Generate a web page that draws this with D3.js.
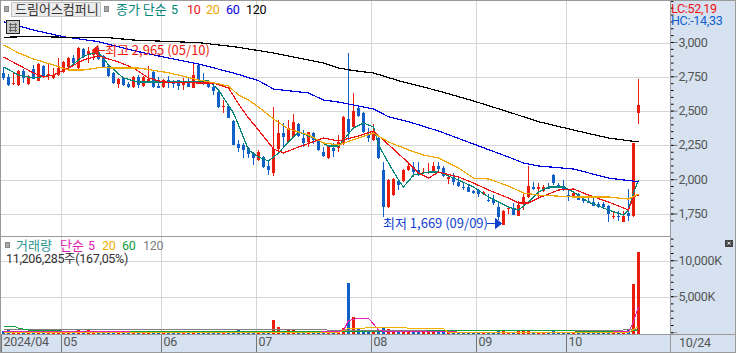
<!DOCTYPE html>
<html>
<head>
<meta charset="utf-8">
<script src="https://cdn.jsdelivr.net/npm/d3@7"></script>
<style>
  body { margin: 0; background: #fff; }
  svg { display: block; }
  text { font-family: "Noto Sans CJK KR", "Noto Sans", sans-serif; font-size: 13px; }
  text.num { font-family: Roboto, "Noto Sans CJK KR", sans-serif; font-size: 12.5px; letter-spacing: -0.3px; }
</style>
</head>
<body>
<div id="chart"></div>
<script>
// gia tri doc tu hinh, moi mang 128 phien
var opens = [2778,2749,2698,2690,2792,2698,2807,2720,2829,2756,2741,2763,2785,2822,2887,2814,2953,2909,2909,2931,
  2902,2829,2778,2698,2741,2698,2676,2749,2683,2720,2785,2683,2676,2727,2712,2727,2690,2705,2669,2836,
  2712,2705,2676,2639,2530,2537,2428,2260,2253,2231,2187,2144,2165,2100,2049,2224,2340,2275,2311,2406,
  2304,2275,2340,2282,2202,2158,2231,2231,2260,2442,2384,2523,2486,2326,2289,2304,2071,1801,1888,1991,
  1991,2071,2093,2071,2049,2049,2056,2100,2085,2005,2020,1983,1947,1947,1918,1925,1896,1852,1852,1801,
  1669,1786,1794,1735,1830,1874,1947,1932,1918,1939,2034,1961,1954,1888,1874,1896,1859,1845,1837,1823,
  1823,1808,1728,1735,1692,1757,1735,2486];
var highs = [2814,2771,2778,2800,2807,2763,2836,2851,2836,2843,2814,2887,2865,2894,2909,2967,2960,2965,2945,2960,
  2909,2836,2785,2741,2749,2712,2756,2763,2756,2829,2792,2749,2734,2756,2727,2727,2741,2741,2858,2851,
  2778,2727,2705,2647,2581,2545,2435,2289,2268,2238,2202,2217,2173,2144,2530,2435,2413,2435,2479,2413,
  2362,2348,2348,2289,2238,2253,2268,2326,2464,2924,2632,2530,2494,2377,2406,2311,2129,2005,2012,1998,
  2078,2122,2129,2129,2085,2122,2129,2129,2100,2027,2049,2012,1983,1961,1925,1932,1918,1896,1888,1837,
  1779,1801,1830,1845,1896,2100,1983,1976,1961,1976,2042,1976,1998,1925,1910,1903,1874,1867,1867,1837,
  1837,1816,1765,1772,1772,1932,2268,2734];
var lows = [2727,2683,2690,2683,2705,2690,2734,2720,2741,2727,2734,2756,2778,2814,2829,2807,2887,2851,2873,2873,
  2814,2749,2698,2669,2683,2669,2669,2669,2676,2712,2669,2669,2669,2669,2669,2654,2654,2676,2669,2705,
  2690,2669,2617,2523,2486,2450,2253,2202,2158,2158,2107,2136,2085,2034,2027,2195,2238,2268,2304,2311,
  2238,2238,2260,2209,2165,2151,2165,2202,2253,2289,2377,2457,2340,2275,2282,2151,1728,1794,1881,1925,
  1983,2063,2020,2027,2042,2042,2049,2049,2020,1969,1961,1947,1925,1910,1896,1874,1888,1837,1816,1706,
  1669,1750,1743,1735,1779,1867,1925,1874,1910,1932,1961,1939,1918,1845,1867,1852,1830,1830,1808,1794,
  1794,1692,1714,1699,1692,1699,1728,2406];
var closes = [2741,2690,2705,2792,2741,2756,2734,2843,2749,2771,2763,2814,2858,2887,2851,2960,2894,2938,2931,2880,
  2822,2756,2705,2734,2690,2676,2749,2690,2749,2734,2676,2669,2727,2705,2698,2683,2712,2676,2763,2727,
  2705,2676,2647,2530,2537,2450,2253,2231,2217,2187,2158,2202,2093,2071,2224,2340,2311,2377,2421,2319,
  2268,2348,2289,2217,2173,2246,2209,2275,2457,2348,2501,2464,2348,2304,2355,2158,1801,1998,2005,1961,
  2071,2100,2056,2034,2056,2056,2100,2078,2027,2020,1983,1954,1939,1910,1903,1896,1910,1845,1830,1728,
  1772,1794,1743,1816,1874,1954,1932,1947,1947,1932,1976,1947,1925,1881,1903,1852,1845,1830,1808,1801,
  1801,1750,1735,1728,1735,1735,2268,2545];
var volumes = [280,310,190,260,240,210,230,300,220,170,150,240,260,280,210,340,250,330,210,240,
  220,200,190,170,180,140,190,160,170,180,210,130,170,140,120,160,150,130,210,270,
  150,130,170,230,160,190,260,310,170,150,130,160,180,140,1760,820,300,340,380,260,
  210,240,190,200,230,270,160,290,720,6940,2220,620,380,290,310,410,640,530,310,190,
  220,180,170,150,120,130,170,140,170,130,120,110,100,120,90,110,90,100,110,220,
  260,130,110,180,210,320,130,110,120,90,190,100,120,110,120,130,90,80,100,90,
  90,170,100,110,140,320,6760,11206];

// cac duong trung binh gia: phien + gia tri
var ma5Bars = [0,3,6,10,13,16,19,21,24,27,33,41,43,46,47,49,51,53,55,57,59,62,65,67,70,72,74,75,77,79,80,82,85,87,91,94,97,101,103,105,107,109,112,114,117,121,124,125,126,127];
var ma5 = [2822,2763,2741,2763,2814,2902,2931,2836,2741,2712,2712,2720,2654,2486,2399,2217,2165,2136,2195,2275,2348,2304,2246,2246,2377,2413,2384,2253,2122,1998,1947,2034,2056,2056,1998,1947,1874,1801,1779,1837,1910,1947,1947,1910,1837,1779,1743,1779,1903,1998];
var ma10Bars = [0,3,6,8,10,13,16,19,23,26,29,32,39,42,45,47,49,51,54,56,59,64,67,71,74,76,81,83,85,87,91,94,97,101,103,105,107,111,114,117,121,125,126,127];
var ma10 = [2894,2836,2778,2749,2763,2814,2873,2902,2858,2814,2741,2712,2705,2705,2669,2552,2450,2362,2224,2195,2238,2304,2282,2319,2355,2289,2122,2049,2012,2056,2020,1976,1925,1867,1830,1830,1867,1925,1932,1888,1837,1779,1874,1888];
var ma20Bars = [0,3,6,10,13,16,19,23,27,33,39,42,45,47,49,51,54,57,61,64,67,71,74,77,81,84,87,91,94,97,101,104,107,114,117,121,125,127];
var ma20 = [2982,2924,2880,2836,2800,2800,2816,2814,2814,2780,2727,2707,2683,2617,2581,2530,2442,2370,2326,2268,2253,2304,2340,2275,2217,2180,2158,2085,2012,2005,1954,1903,1888,1874,1874,1874,1859,1896];
var ma60Bars = [0,6,12,19,27,33,39,46,51,54,61,64,67,71,74,77,81,87,94,101,104,107,114,121,127];
var ma60 = [3152,3091,3042,3006,2933,2887,2843,2778,2722,2661,2632,2581,2566,2537,2515,2459,2423,2355,2260,2165,2122,2100,2078,2012,1985];
var ma120Bars = [0,6,16,21,26,39,46,54,60,64,67,70,74,79,87,94,101,107,114,121,127];
var ma120 = [3038,3044,3035,3035,3018,2999,2970,2924,2880,2851,2814,2795,2778,2722,2647,2574,2494,2423,2362,2304,2275];

// trung binh khoi luong
var vol5Bars = [0,60,66,68,69,71,73,74,75,76,96,125,126,127];
var vol5 = [100,90,100,300,1700,2000,2000,1200,380,200,60,100,1530,3570];
var vol20Bars = [0,67,68,69,72,73,88,89,125,126,127];
var vol20 = [30,30,300,600,620,750,560,30,60,450,830];
var vol60Bars = [0,2,3,5,11,12,84,85,114,115,125,127];
var vol60 = [930,930,620,375,375,140,140,280,280,150,150,400];
var vol120Bars = [0,64,65,114,115,127];
var vol120 = [460,460,350,350,300,400];

var monthBars = [0,12,32,51,74,95,113];
var monthLabels = ["2024/04","05","06","07","08","09","10"];
var priceTicks = [3000,2750,2500,2250,2000,1750];
var volTicks = [10000,5000];

var width = 736, height = 353;
var upColor = "#ec1c0c", downColor = "#1060c8", gridColor = "#d6d6d6", frameColor = "#9a9a9a", panelColor = "#d6e2f0";

var svg = d3.select("#chart").append("svg")
  .attr("width", width).attr("height", height);

var x = d3.scaleBand().domain(d3.range(opens.length)).range([1, 641]);
var y = d3.scaleLinear().domain([3000, 1750]).range([42.5, 214]);
var yVol = d3.scaleLinear().domain([0, 10000]).range([332.7, 260.7]);
var cx = function(i) { return x(i) + 2.5; };
var snap = function(v) { return Math.round(v); };

// nen truc
svg.append("rect").attr("x", 670).attr("y", 0).attr("width", 66).attr("height", 353).attr("fill", panelColor);
svg.append("rect").attr("x", 0).attr("y", 334).attr("width", 736).attr("height", 19).attr("fill", panelColor);

// luoi
var grid = svg.append("g").attr("stroke", gridColor);
monthBars.slice(1).forEach(function(i) {
  grid.append("line").attr("x1", x(i) + 0.5).attr("x2", x(i) + 0.5).attr("y1", 0).attr("y2", 334);
});
priceTicks.forEach(function(v) {
  grid.append("line").attr("x1", 1).attr("x2", 670).attr("y1", snap(y(v)) + 0.5).attr("y2", snap(y(v)) + 0.5);
});
volTicks.forEach(function(v) {
  grid.append("line").attr("x1", 1).attr("x2", 670).attr("y1", snap(yVol(v)) + 0.5).attr("y2", snap(yVol(v)) + 0.5);
});

// cac cay nen
var candles = svg.append("g").selectAll("g").data(d3.range(opens.length)).enter().append("g")
  .attr("fill", function(i) { return closes[i] >= opens[i] ? upColor : downColor; });
candles.append("rect")
  .attr("x", function(i) { return x(i) + 2; }).attr("width", 1)
  .attr("y", function(i) { return snap(y(highs[i])); })
  .attr("height", function(i) { return Math.max(1, snap(y(lows[i])) - snap(y(highs[i]))); });
candles.append("rect")
  .attr("x", function(i) { return x(i) + 1; }).attr("width", 3)
  .attr("y", function(i) { return snap(y(Math.max(opens[i], closes[i]))); })
  .attr("height", function(i) { return Math.max(1, snap(y(Math.min(opens[i], closes[i]))) - snap(y(Math.max(opens[i], closes[i])))); });

// ve duong
function drawLine(bars, values, scale, color, w) {
  var line = d3.line().x(function(d) { return cx(d[0]); }).y(function(d) { return scale(d[1]); });
  svg.append("path")
    .datum(d3.zip(bars, values))
    .attr("d", line)
    .attr("fill", "none")
    .attr("stroke", color)
    .attr("stroke-width", w || 1.2)
    .attr("shape-rendering", "crispEdges");
}
drawLine(ma5Bars, ma5, y, "#008578");
drawLine(ma10Bars, ma10, y, "#ee1111");
drawLine(ma20Bars, ma20, y, "#f0a800");
drawLine(ma60Bars, ma60, y, "#0000e0");
drawLine(ma120Bars, ma120, y, "#000000");

// cot khoi luong
svg.append("g").selectAll("rect").data(d3.range(volumes.length)).enter().append("rect")
  .attr("x", function(i) { return x(i) + 1; })
  .attr("width", 3)
  .attr("y", function(i) { return snap(yVol(volumes[i])); })
  .attr("height", function(i) { return 334 - snap(yVol(volumes[i])); })
  .attr("fill", function(i) { return closes[i] >= opens[i] ? upColor : downColor; });
drawLine(vol120Bars, vol120, yVol, "#808080", 1);
drawLine(vol60Bars, vol60, yVol, "#10a040", 1);
drawLine(vol5Bars, vol5, yVol, "#e020b0", 1);
drawLine(vol20Bars, vol20, yVol, "#f0b000", 1);

// truc gia
var axisPrice = svg.append("g").attr("transform", "translate(670.5,0)")
  .call(d3.axisRight(y).tickValues(priceTicks).tickSize(7).tickPadding(1).tickFormat(d3.format(",")).offset(0));
svg.append("g").attr("transform", "translate(670.5,0)")
  .call(d3.axisRight(y).tickValues(d3.range(1700, 3301, 50)).tickSize(3).tickFormat("").offset(0))
  .call(function(g) { g.select(".domain").remove(); });

var axisVol = svg.append("g").attr("transform", "translate(670.5,0)")
  .call(d3.axisRight(yVol).tickValues(volTicks).tickSize(7).tickPadding(1).tickFormat(function(d) { return d3.format(",")(d) + "K"; }).offset(0));
svg.append("g").attr("transform", "translate(670.5,0)")
  .call(d3.axisRight(yVol).tickValues(d3.range(0, 13001, 1000)).tickSize(3).tickFormat("").offset(0))
  .call(function(g) { g.select(".domain").remove(); });

// truc thoi gian
var axisTime = svg.append("g").attr("transform", "translate(-2,334)")
  .call(d3.axisBottom(x).tickValues(monthBars).tickSize(18).tickFormat(function(d, i) { return monthLabels[i]; }));
axisTime.selectAll("text").attr("text-anchor", "start").attr("x", 2).attr("y", 3).attr("dy", "0.71em");
axisTime.select(".domain").remove();

[axisPrice, axisVol, axisTime].forEach(function(g) {
  g.attr("font-family", null).attr("font-size", null);
  g.selectAll("text").attr("class", "num").attr("fill", "#555");
  g.selectAll("line").attr("stroke", "#777");
  g.selectAll(".domain").attr("stroke", frameColor);
});

// khung
var frame = svg.append("g").attr("stroke", frameColor).attr("fill", "none");
frame.append("rect").attr("x", 0.5).attr("y", 0.5).attr("width", 735).attr("height", 352);
frame.append("line").attr("x1", 1).attr("x2", 670).attr("y1", 236.5).attr("y2", 236.5);
frame.append("line").attr("x1", 1).attr("x2", 736).attr("y1", 334.5).attr("y2", 334.5);
frame.append("line").attr("x1", 670.5).attr("x2", 670.5).attr("y1", 0).attr("y2", 353);

function label(px, py, str, color, cls) {
  return svg.append("text").attr("x", px).attr("y", py).attr("fill", color).attr("class", cls || null).text(str);
}
function bullet(px, py) {
  svg.append("rect").attr("x", px + 0.5).attr("y", py + 0.5).attr("width", 4).attr("height", 5)
    .attr("fill", "#a8a8a8").attr("stroke", "#888");
}
label(679, 347, "10/24", "#555", "num");

// chu thich tren
bullet(4, 6);
bullet(104, 6);
svg.append("rect").attr("x", 11.5).attr("y", 2.5).attr("width", 89).attr("height", 14)
  .attr("fill", "#ececec").attr("stroke", "#c4c4c4");
label(15, 14, "드림어스컴퍼니", "#333");
label(116, 14, "종가 단순", "#00857a");
label(171, 14, "5", "#00857a", "num");
label(187, 14, "10", "#ee1111", "num");
label(206, 14, "20", "#f0a800", "num");
label(226, 14, "60", "#0000e0", "num");
label(246, 14, "120", "#000", "num");

// o luoi nho
var icon = svg.append("g");
icon.append("rect").attr("x", 6.5).attr("y", 20.5).attr("width", 13).attr("height", 13).attr("fill", "#c8c8c8").attr("stroke", "#222");
icon.append("path").attr("d", "M9 24.5H17M9 27.5H17M9 30.5H17M10.5 23V32M15.5 23V32").attr("stroke", "#666").attr("fill", "none");

label(671, 13, "LC:52,19", "#f01010", "num");
label(671, 25, "HC:-14,33", "#1060d0", "num");

// nhan cao nhat / thap nhat
var hiY = 50.5, loY = 223.5;
svg.append("path").attr("d", "M" + (cx(17) + 3.5) + " " + hiY + "l6 -5v10z M" + (cx(17) + 9) + " " + hiY + "H105")
  .attr("fill", upColor).attr("stroke", upColor);
label(105, 55, "최고 2,965 (05/10)", upColor);
label(383, 228, "최저 1,669 (09/09)", "#1040d0");
svg.append("path").attr("d", "M487 " + loY + "H" + (cx(100) - 8) + " M" + (cx(100) - 2) + " " + loY + "l-6 -5v10z")
  .attr("fill", "#1040d0").attr("stroke", "#1040d0");

// chu thich khoi luong
bullet(5, 242);
label(16, 250, "거래량", "#2a9490");
label(60, 250, "단순", "#e020b0");
label(88, 250, "5", "#e020b0", "num");
label(102, 250, "20", "#f0b000", "num");
label(122, 250, "60", "#10a040", "num");
label(143, 250, "120", "#808080", "num");
label(6, 263, "11,206,285주(167,05%)", "#333", "num");

svg.append("rect").attr("x", 725).attr("y", 240).attr("width", 8).attr("height", 7).attr("fill", "#444");
svg.append("path").attr("d", "M727.5 242l3 2.5M730.5 242l-3 2.5").attr("stroke", "#fff");
</script>
</body>
</html>
